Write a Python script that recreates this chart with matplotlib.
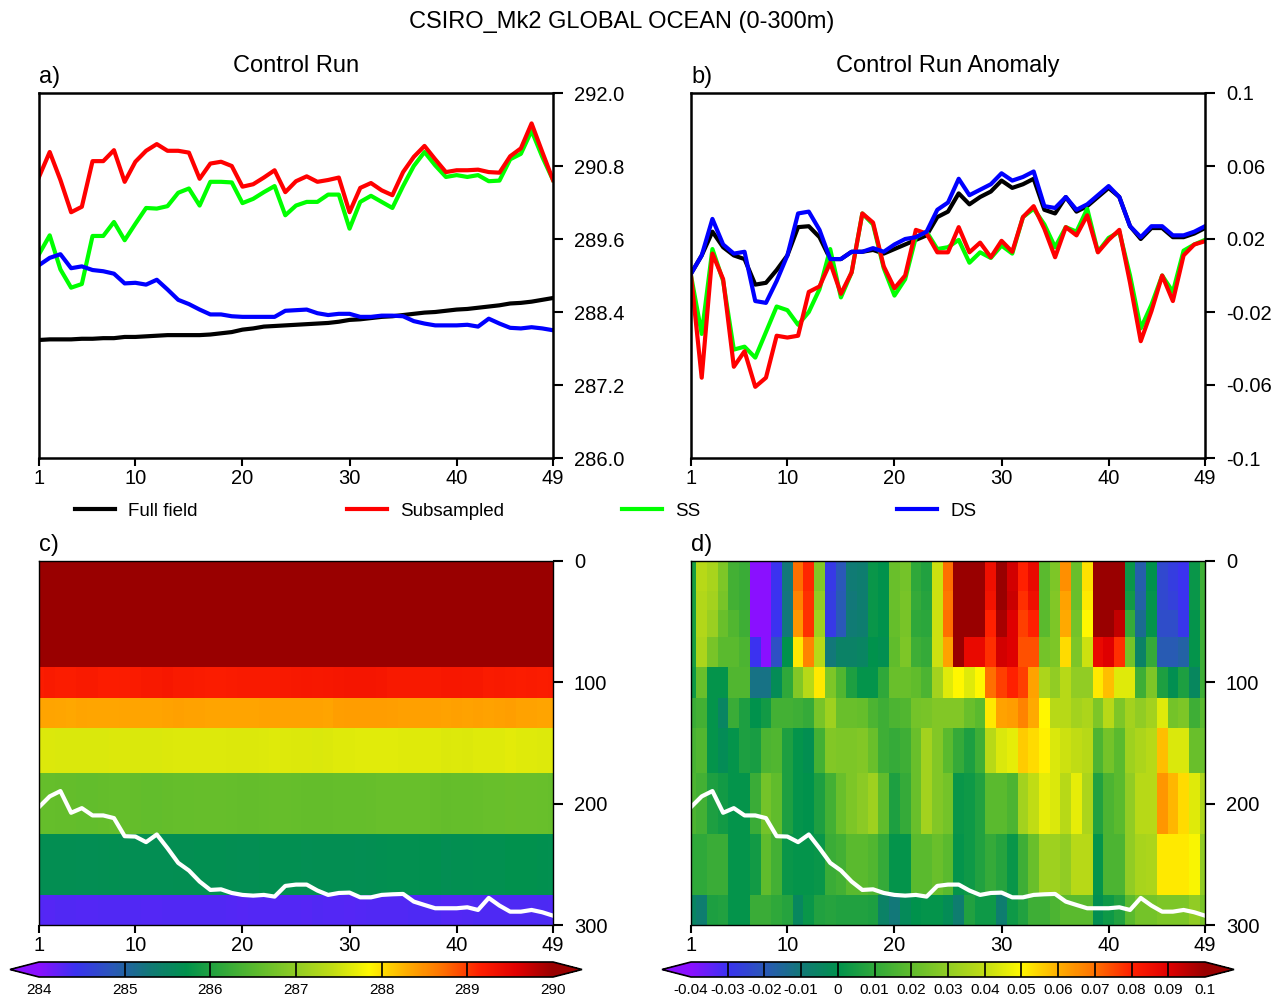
import numpy as np
import matplotlib
matplotlib.use("Agg")
import matplotlib.pyplot as plt
from matplotlib.colors import LinearSegmentedColormap, Normalize
from matplotlib.cm import ScalarMappable
from matplotlib.lines import Line2D
from matplotlib.ticker import FormatStrFormatter

plt.rcParams['font.family'] = ['Liberation Sans', 'DejaVu Sans']

# ---------------------------------------------------------------- data
years = np.arange(1, 50)
year_ticks = [1, 10, 20, 30, 40, 49]

# 0-300 m mean temperature (K)
full_field = [287.94, 287.95, 287.95, 287.95, 287.96, 287.96, 287.97, 287.97, 287.99, 287.99,
              288.00, 288.01, 288.02, 288.02, 288.02, 288.02, 288.03, 288.05, 288.07, 288.11,
              288.13, 288.16, 288.17, 288.18, 288.19, 288.20, 288.21, 288.22, 288.24, 288.27,
              288.28, 288.30, 288.32, 288.33, 288.35, 288.37, 288.39, 288.40, 288.42, 288.44,
              288.45, 288.47, 288.49, 288.51, 288.54, 288.55, 288.57, 288.60, 288.63]
subsampled = [290.62, 291.03, 290.57, 290.04, 290.13, 290.88, 290.88, 291.06, 290.54, 290.87,
              291.05, 291.16, 291.05, 291.05, 291.02, 290.59, 290.84, 290.87, 290.80, 290.46,
              290.50, 290.61, 290.73, 290.37, 290.55, 290.63, 290.54, 290.57, 290.61, 290.04,
              290.44, 290.52, 290.40, 290.32, 290.70, 290.95, 291.13, 290.91, 290.70, 290.73,
              290.73, 290.74, 290.70, 290.69, 290.96, 291.09, 291.50, 291.03, 290.57]
ss = [289.35, 289.66, 289.10, 288.80, 288.86, 289.65, 289.65, 289.88, 289.58, 289.85,
      290.11, 290.10, 290.14, 290.36, 290.43, 290.15, 290.54, 290.54, 290.53, 290.19,
      290.26, 290.37, 290.47, 289.99, 290.15, 290.21, 290.21, 290.33, 290.33, 289.77,
      290.21, 290.31, 290.21, 290.11, 290.47, 290.80, 291.03, 290.81, 290.62, 290.65,
      290.62, 290.65, 290.55, 290.56, 290.91, 291.00, 291.38, 290.95, 290.57]
ds = [289.17, 289.29, 289.35, 289.12, 289.15, 289.09, 289.07, 289.03, 288.87, 288.88,
      288.85, 288.93, 288.77, 288.60, 288.53, 288.44, 288.36, 288.36, 288.33, 288.32,
      288.32, 288.32, 288.32, 288.42, 288.43, 288.44, 288.38, 288.35, 288.37, 288.37,
      288.32, 288.32, 288.34, 288.34, 288.33, 288.25, 288.21, 288.18, 288.18, 288.18,
      288.19, 288.16, 288.29, 288.21, 288.14, 288.13, 288.15, 288.13, 288.10]

# anomalies (K)
full_field_anom = [0.001, 0.011, 0.024, 0.0155, 0.011, 0.009, -0.005, -0.004, 0.003, 0.011,
                   0.0265, 0.027, 0.021, 0.009, 0.009, 0.013, 0.013, 0.014, 0.012, 0.0145,
                   0.017, 0.0195, 0.022, 0.032, 0.035, 0.045, 0.039, 0.043, 0.046, 0.052,
                   0.048, 0.050, 0.053, 0.036, 0.034, 0.043, 0.035, 0.038, 0.043, 0.048,
                   0.043, 0.027, 0.020, 0.026, 0.026, 0.021, 0.021, 0.023, 0.026]
subsampled_anom = [0.0, -0.056, 0.012, -0.002, -0.050, -0.0415, -0.061, -0.056, -0.033, -0.034,
                   -0.033, -0.009, -0.006, 0.007, -0.010, 0.0017, 0.034, 0.029, 0.005, -0.007,
                   0.0, 0.025, 0.023, 0.0127, 0.0127, 0.0265, 0.0127, 0.018, 0.010, 0.019,
                   0.013, 0.032, 0.038, 0.0256, 0.010, 0.0265, 0.022, 0.033, 0.0127, 0.0195,
                   0.025, -0.004, -0.036, -0.0195, 0.0, -0.014, 0.011, 0.017, 0.0188]
ss_anom = [0.0, -0.032, 0.0145, -0.003, -0.0406, -0.039, -0.045, -0.031, -0.017, -0.019,
           -0.027, -0.020, -0.0075, 0.0145, -0.012, 0.0017, 0.034, 0.028, 0.004, -0.011,
           -0.002, 0.021, 0.024, 0.0145, 0.0155, 0.0195, 0.007, 0.0127, 0.0096, 0.0164,
           0.012, 0.032, 0.0366, 0.028, 0.0155, 0.0265, 0.024, 0.0366, 0.013, 0.0206,
           0.024, 0.0, -0.029, -0.016, 0.0, -0.009, 0.0136, 0.017, 0.0195]
ds_anom = [0.001, 0.011, 0.031, 0.017, 0.012, 0.013, -0.014, -0.015, -0.003, 0.011,
           0.034, 0.035, 0.025, 0.009, 0.009, 0.013, 0.013, 0.015, 0.013, 0.017,
           0.020, 0.021, 0.024, 0.036, 0.040, 0.053, 0.044, 0.047, 0.050, 0.056,
           0.052, 0.054, 0.057, 0.038, 0.037, 0.043, 0.036, 0.039, 0.044, 0.049,
           0.043, 0.027, 0.021, 0.027, 0.027, 0.022, 0.022, 0.024, 0.027]

# DS trace expressed on the depth axis (m)
ds_depth = [202.8, 194.0, 189.6, 207.5, 203.7, 209.7, 209.7, 211.9, 226.8, 227.1,
            231.7, 225.4, 236.7, 248.8, 255.1, 264.2, 271.1, 270.6, 273.6, 275.2,
            275.8, 275.2, 276.6, 267.8, 266.7, 266.7, 271.6, 275.2, 273.6, 273.3,
            277.2, 277.2, 275.2, 274.7, 274.4, 280.7, 283.5, 286.2, 286.2, 286.2,
            285.4, 287.6, 277.7, 284.0, 289.0, 289.0, 287.6, 289.5, 292.3]

# model levels (layer edges, m) and level climatology (K)
level_edges = [0, 25, 40, 62.5, 87.5, 112.5, 137.5, 175, 225, 275, 300]
control_level_mean = [291.8, 291.3, 290.8, 290.4, 289.2, 288.35, 287.6, 286.6, 285.65, 284.3]

# temperature anomaly per level (rows, top to bottom) and year (columns)
anomaly_by_level = [
    [0.005, 0.038, 0.035, 0.026, 0.014, 0.012, -0.042, -0.042, -0.030, -0.010,
     0.070, 0.079, 0.027, -0.028, -0.020, -0.009, -0.008, 0.002, 0.000, 0.022,
     0.024, 0.010, 0.007, 0.042, 0.070, 0.110, 0.110, 0.110, 0.085, 0.105,
     0.092, 0.080, 0.087, 0.019, 0.026, 0.065, 0.022, 0.053, 0.110, 0.110,
     0.100, 0.002, -0.018, 0.000, -0.024, -0.027, -0.030, 0.002, 0.013],
    [0.005, 0.037, 0.034, 0.025, 0.014, 0.012, -0.042, -0.042, -0.030, -0.011,
     0.067, 0.078, 0.030, -0.027, -0.019, -0.010, -0.008, 0.002, 0.000, 0.022,
     0.025, 0.011, 0.008, 0.042, 0.069, 0.110, 0.110, 0.110, 0.084, 0.100,
     0.093, 0.078, 0.085, 0.019, 0.027, 0.062, 0.022, 0.052, 0.110, 0.110,
     0.100, 0.004, -0.017, 0.001, -0.024, -0.026, -0.030, 0.002, 0.013],
    [0.005, 0.037, 0.032, 0.022, 0.017, 0.013, -0.042, -0.042, -0.030, -0.010,
     0.064, 0.078, 0.033, -0.028, -0.020, -0.009, -0.008, 0.002, 0.000, 0.021,
     0.025, 0.010, 0.009, 0.042, 0.070, 0.110, 0.110, 0.110, 0.080, 0.098,
     0.090, 0.076, 0.080, 0.019, 0.026, 0.061, 0.024, 0.050, 0.110, 0.110,
     0.094, 0.011, -0.014, 0.001, -0.023, -0.023, -0.029, 0.001, 0.013],
    [0.005, 0.036, 0.025, 0.019, 0.019, 0.016, -0.030, -0.042, -0.022, 0.000,
     0.052, 0.067, 0.038, -0.010, -0.006, -0.006, -0.005, 0.000, -0.001, 0.020,
     0.026, 0.013, 0.011, 0.042, 0.062, 0.100, 0.087, 0.087, 0.078, 0.092,
     0.090, 0.074, 0.074, 0.024, 0.026, 0.054, 0.026, 0.042, 0.087, 0.090,
     0.078, 0.024, -0.006, 0.011, -0.019, -0.019, -0.017, 0.001, 0.013],
    [0.003, 0.022, 0.001, 0.001, 0.017, 0.017, -0.012, -0.012, -0.002, 0.010,
     0.027, 0.038, 0.052, 0.026, 0.017, 0.006, 0.001, 0.001, 0.010, 0.022,
     0.022, 0.020, 0.016, 0.034, 0.045, 0.050, 0.045, 0.050, 0.070, 0.076,
     0.080, 0.076, 0.062, 0.036, 0.030, 0.038, 0.030, 0.030, 0.052, 0.058,
     0.045, 0.045, 0.013, 0.026, 0.006, -0.001, 0.006, -0.004, 0.013],
    [0.012, 0.014, 0.001, -0.005, 0.012, 0.006, 0.000, 0.004, 0.014, 0.014,
     0.013, 0.011, 0.025, 0.033, 0.022, 0.022, 0.021, 0.016, 0.013, 0.016,
     0.017, 0.024, 0.025, 0.027, 0.027, 0.027, 0.022, 0.019, 0.052, 0.062,
     0.063, 0.067, 0.061, 0.050, 0.038, 0.038, 0.034, 0.036, 0.026, 0.038,
     0.026, 0.034, 0.030, 0.034, 0.045, 0.024, 0.026, 0.013, 0.019],
    [0.015, 0.017, 0.001, -0.002, 0.001, 0.006, 0.005, 0.016, 0.017, 0.006,
     0.001, -0.001, 0.014, 0.027, 0.026, 0.026, 0.027, 0.022, 0.013, 0.011,
     0.013, 0.022, 0.034, 0.027, 0.019, 0.011, 0.006, 0.013, 0.038, 0.044,
     0.046, 0.056, 0.054, 0.051, 0.044, 0.042, 0.040, 0.038, 0.016, 0.024,
     0.019, 0.033, 0.036, 0.038, 0.058, 0.044, 0.044, 0.022, 0.022],
    [0.016, 0.014, 0.006, 0.004, 0.001, 0.001, 0.012, 0.024, 0.020, 0.006,
     0.001, 0.000, 0.006, 0.014, 0.022, 0.026, 0.029, 0.033, 0.020, 0.006,
     0.011, 0.022, 0.034, 0.027, 0.024, 0.002, 0.003, 0.007, 0.019, 0.019,
     0.016, 0.034, 0.040, 0.046, 0.044, 0.038, 0.046, 0.036, 0.007, 0.016,
     0.019, 0.030, 0.038, 0.038, 0.064, 0.059, 0.054, 0.045, 0.036],
    [0.010, 0.010, 0.012, 0.012, 0.001, 0.001, 0.004, 0.020, 0.014, 0.002,
     0.001, 0.001, 0.002, 0.012, 0.014, 0.019, 0.019, 0.017, 0.011, 0.001,
     0.001, 0.019, 0.019, 0.022, 0.019, 0.001, 0.003, 0.007, 0.011, 0.008,
     0.002, 0.013, 0.022, 0.033, 0.033, 0.030, 0.038, 0.038, 0.001, 0.016,
     0.016, 0.030, 0.035, 0.036, 0.052, 0.052, 0.052, 0.049, 0.030],
    [-0.005, -0.008, 0.006, 0.007, 0.001, 0.001, 0.012, 0.012, 0.010, 0.008,
     -0.004, 0.002, 0.007, 0.008, 0.007, 0.007, 0.007, 0.006, -0.006, -0.010,
     -0.003, 0.000, 0.001, 0.001, -0.002, -0.008, 0.007, 0.003, 0.003, -0.008,
     0.003, 0.007, 0.013, 0.013, 0.016, 0.019, 0.019, 0.019, -0.001, 0.003,
     0.007, 0.019, 0.024, 0.024, 0.026, 0.026, 0.026, 0.030, 0.025],
]

# ---------------------------------------------------------------- styling
cmap = LinearSegmentedColormap.from_list("bgyr", [
    (0.000, '#8A10FF'), (0.071, '#3A32F0'), (0.143, '#2A58B8'), (0.214, '#127878'),
    (0.286, '#00924C'), (0.357, '#30A83A'), (0.429, '#60BC2C'), (0.500, '#90CC24'),
    (0.571, '#C0DC14'), (0.643, '#FFF800'), (0.714, '#FFB000'), (0.786, '#FF7000'),
    (0.857, '#FF2000'), (0.929, '#E00000'), (1.000, '#990000')], N=512)
cmap.set_under('#8A10FF')
cmap.set_over('#990000')

norm_c = Normalize(284, 290)
norm_d = Normalize(-0.04, 0.1)
cbar_ticks_c = np.arange(284, 291, 1)
cbar_ticks_d = np.round(np.arange(-0.04, 0.1001, 0.01), 2) + 0.0

W, H = 1276, 996
fig = plt.figure(figsize=(W / 100, H / 100), dpi=100)


def box(l, t, r, b):
    return [l / W, 1 - b / H, (r - l) / W, (b - t) / H]


ax_a = fig.add_axes(box(39, 93, 553, 458))
ax_b = fig.add_axes(box(691, 93, 1205, 458))
ax_c = fig.add_axes(box(39, 561, 553, 925))
ax_d = fig.add_axes(box(691, 561, 1205, 925))
# colorbar axes include the triangular end caps on both sides
cax_c = fig.add_axes(box(10, 962, 582, 977))
cax_d = fig.add_axes(box(662, 962, 1234, 977))

TICK_FS = 14.5
LW = 3.0


def style_axes(ax, spine_w):
    ax.set_xlim(1, 49)
    ax.set_xticks(year_ticks)
    ax.yaxis.tick_right()
    for s in ax.spines.values():
        s.set_linewidth(spine_w)
    ax.tick_params(axis='y', direction='out', length=7, width=1.5, labelsize=TICK_FS, pad=8)
    ax.tick_params(axis='x', direction='out', length=6, width=1.5, labelsize=TICK_FS, pad=2)


# panel a
ax_a.plot(years, full_field, color='black', lw=LW)
ax_a.plot(years, ss, color='#00FF00', lw=LW)
ax_a.plot(years, subsampled, color='#FF0000', lw=LW)
ax_a.plot(years, ds, color='#0000FF', lw=LW)
style_axes(ax_a, 1.8)
ax_a.set_ylim(286, 292)
ax_a.set_yticks(np.round(np.arange(286, 292.01, 1.2), 1))
ax_a.yaxis.set_major_formatter(FormatStrFormatter('%.1f'))

# panel b
ax_b.plot(years, full_field_anom, color='black', lw=LW)
ax_b.plot(years, ss_anom, color='#00FF00', lw=LW)
ax_b.plot(years, subsampled_anom, color='#FF0000', lw=LW)
ax_b.plot(years, ds_anom, color='#0000FF', lw=LW)
style_axes(ax_b, 1.8)
ax_b.set_ylim(-0.1, 0.1)
ax_b.set_yticks(np.round(np.arange(-0.1, 0.1001, 0.04), 2))
ax_b.yaxis.set_major_formatter(FormatStrFormatter('%g'))

# panels c and d
x_edges = np.concatenate([[years[0] - 0.5], years + 0.5])
anom = np.array(anomaly_by_level)
control = np.array(control_level_mean)[:, None] + anom

ax_c.pcolormesh(x_edges, level_edges, control, cmap=cmap, norm=norm_c,
                shading='flat', antialiased=False)
ax_d.pcolormesh(x_edges, level_edges, anom, cmap=cmap, norm=norm_d,
                shading='flat', antialiased=False)
for ax in (ax_c, ax_d):
    ax.plot(years, ds_depth, color='white', lw=LW)
    style_axes(ax, 1.0)
    ax.set_ylim(300, 0)
    ax.set_yticks([0, 100, 200, 300])


# colorbars
def add_cbar(cax, norm, ticks, fmt):
    cb = fig.colorbar(ScalarMappable(norm=norm, cmap=cmap), cax=cax,
                      orientation='horizontal', extend='both',
                      extendfrac=29 / 514, ticks=ticks)
    cb.outline.set_linewidth(1.2)
    cb.ax.xaxis.set_major_formatter(FormatStrFormatter(fmt))
    cb.ax.tick_params(length=0, labelsize=11, pad=4)
    for t in ticks[1:-1]:
        cb.ax.axvline(t, color='black', lw=1.2)
    return cb


add_cbar(cax_c, norm_c, cbar_ticks_c, '%g')
add_cbar(cax_d, norm_d, cbar_ticks_d, '%g')

# texts
fig.text(622 / W, 1 - 22 / H, 'CSIRO_Mk2 GLOBAL OCEAN (0-300m)',
         ha='center', va='center', fontsize=17)
fig.text(296 / W, 1 - 66 / H, 'Control Run', ha='center', va='center', fontsize=17)
fig.text(948 / W, 1 - 66 / H, 'Control Run Anomaly', ha='center', va='center', fontsize=17)
for lab, x, y in (('a)', 39, 77), ('b)', 691, 77), ('c)', 39, 545), ('d)', 691, 545)):
    fig.text(x / W, 1 - y / H, lab, ha='left', va='center', fontsize=17)

# legend row
legend_items = [('Full field', 'black', 75), ('Subsampled', '#FF0000', 347),
                ('SS', '#00FF00', 622), ('DS', '#0000FF', 897)]
for label, color, x0 in legend_items:
    handle = Line2D([], [], color=color, lw=LW)
    fig.legend([handle], [label], loc='center left',
               bbox_to_anchor=(x0 / W, 1 - 511 / H), frameon=False,
               fontsize=13.5, handlelength=2.15, handletextpad=0.7,
               borderpad=0, borderaxespad=0)

fig.savefig('out.png', dpi=100)
